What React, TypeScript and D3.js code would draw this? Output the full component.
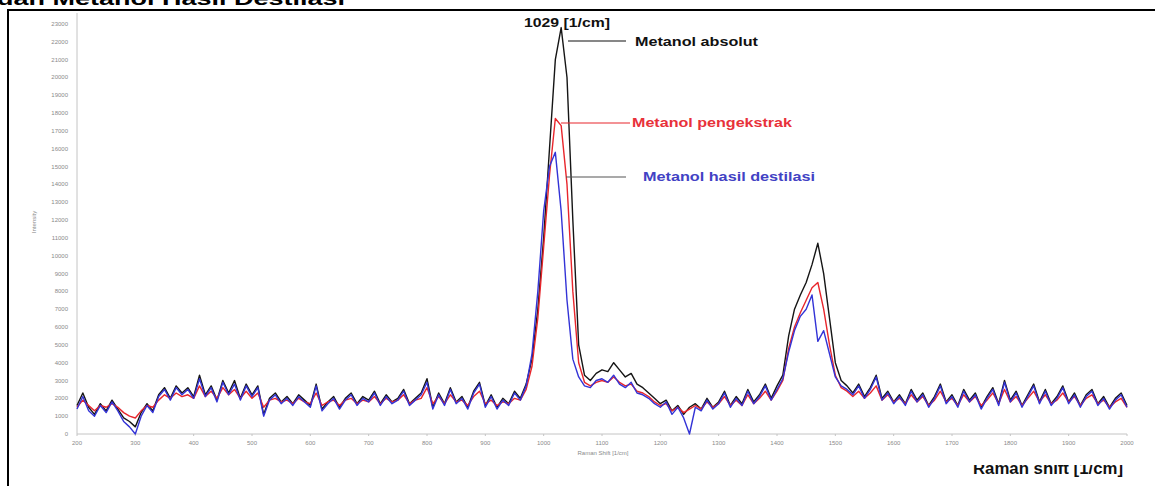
import React from "react";
import * as d3 from "d3";

const shiftStart = 200;
const shiftStep = 10;

const absolut = [
  1600, 2300, 1500, 1100, 1700, 1300, 1900, 1400, 900, 700,
  400, 1200, 1700, 1300, 2200, 2600, 2000, 2700, 2300, 2600,
  2100, 3300, 2200, 2700, 1900, 3000, 2300, 3000, 2000, 2800,
  2200, 2700, 1100, 2000, 2300, 1800, 2100, 1700, 2200, 1900,
  1600, 2800, 1400, 1800, 2100, 1500, 2000, 2300, 1700, 2100,
  1900, 2400, 1700, 2200, 1800, 2000, 2500, 1700, 2000, 2300,
  3100, 1500, 2300, 1700, 2600, 1800, 2100, 1500, 2400, 2900,
  1600, 2200, 1500, 2000, 1700, 2400, 2000, 2800, 4200, 7000,
  11000, 16000, 21000, 22800, 20000, 12000, 5000, 3300, 3000, 3400,
  3600, 3500, 4000, 3600, 3200, 3400, 2800, 2600, 2300, 2000,
  1700, 1900, 1300, 1600, 1100, 1500, 1700, 1400, 2000, 1500,
  1800, 2400, 1600, 2100, 1700, 2500, 1800, 2200, 2800, 2000,
  2700, 3300, 5500, 7000, 7800, 8500, 9500, 10700, 9000, 6500,
  4000, 3000, 2700, 2300, 2800, 2100, 2600, 3300, 2000, 2400,
  1800, 2200, 1700, 2500, 1900, 2300, 1600, 2100, 2800, 1800,
  2200, 1600, 2500, 1900, 2300, 1500, 2100, 2600, 1700, 3000,
  1900, 2400, 1600, 2200, 2800, 1800, 2500, 1700, 2100, 2700,
  1800, 2300, 1600, 2200, 2500, 1700, 2100, 1500, 2000, 2300,
  1600,
];

const pengekstrak = [
  1500, 1900, 1600, 1300, 1600, 1500, 1700, 1500, 1200, 1000,
  900, 1300, 1600, 1500, 1900, 2200, 2000, 2300, 2100, 2200,
  2000, 2700, 2100, 2400, 2000, 2600, 2200, 2500, 2000, 2400,
  2000, 2300, 1500, 1900, 2000, 1800, 1900, 1700, 2000, 1800,
  1700, 2300, 1600, 1800, 1900, 1600, 1900, 2000, 1700, 1900,
  1800, 2100, 1700, 2000, 1800, 1900, 2200, 1700, 1900, 2000,
  2600, 1700, 2100, 1700, 2200, 1800, 1900, 1600, 2100, 2400,
  1700, 1900, 1600, 1800, 1700, 2000, 1900, 2500, 3800, 6500,
  10500, 14500, 17700, 17300, 14000, 8000, 4000, 2900, 2700, 2900,
  3000, 2900, 3200, 2900, 2700, 2800, 2400, 2300, 2100, 1800,
  1600, 1700, 1300, 1500, 1200, 1400, 1600, 1400, 1800, 1500,
  1700, 2100, 1600, 1900, 1600, 2200, 1700, 2000, 2400, 1900,
  2400, 3000, 4800, 6000, 6800, 7500, 8200, 8500, 7000, 5000,
  3300, 2600, 2400, 2100, 2400, 2000, 2300, 2700, 1900, 2200,
  1800, 2000, 1700, 2200, 1800, 2100, 1600, 1900, 2400, 1800,
  2000, 1600, 2200, 1800, 2100, 1600, 1900, 2300, 1700, 2500,
  1800, 2100, 1600, 2000, 2400, 1800, 2200, 1700, 1900, 2300,
  1800, 2100, 1600, 2000, 2200, 1700, 1900, 1500, 1800, 2000,
  1500,
];

const destilasi = [
  1400, 2100, 1300, 1000, 1600, 1200, 1800, 1300, 700, 400,
  0, 1000, 1600, 1200, 2100, 2500, 1900, 2600, 2200, 2500,
  2000, 3100, 2100, 2600, 1800, 2900, 2200, 2800, 1900, 2700,
  2100, 2600, 1000, 1900, 2200, 1700, 2000, 1600, 2100, 1800,
  1500, 2700, 1300, 1700, 2000, 1400, 1900, 2200, 1600, 2000,
  1800, 2300, 1600, 2100, 1700, 1900, 2400, 1600, 1900, 2200,
  2900, 1400, 2200, 1600, 2500, 1700, 2000, 1400, 2300, 2800,
  1500, 2100, 1400, 1900, 1600, 2300, 1900, 2700, 4500, 8000,
  12500, 15000, 15800, 12500, 7500, 4200, 3200, 2700, 2600, 3000,
  3100, 2900, 3300, 2800, 2600, 2900, 2300, 2200, 2000, 1700,
  1500, 1800, 1100, 1500, 900, 0, 1500, 1300, 1900, 1400,
  1700, 2300, 1500, 2000, 1600, 2400, 1700, 2100, 2700, 1900,
  2500, 3100, 4600, 5800, 6600, 7000, 7800, 5200, 5800, 4500,
  3200, 2700, 2500, 2200, 2700, 2000, 2500, 3200, 1900, 2300,
  1700, 2100, 1600, 2400, 1800, 2200, 1500, 2000, 2700, 1700,
  2100, 1500, 2400, 1800, 2200, 1400, 2000, 2500, 1600, 2900,
  1800, 2300, 1500, 2100, 2700, 1700, 2400, 1600, 2000, 2600,
  1700, 2200, 1500, 2100, 2400, 1600, 2000, 1400, 1900, 2200,
  1500,
];

const xTicks = [200, 300, 400, 500, 600, 700, 800, 900, 1000, 1100, 1200, 1300, 1400, 1500, 1600, 1700, 1800, 1900, 2000];
const yTicks = [0, 1000, 2000, 3000, 4000, 5000, 6000, 7000, 8000, 9000, 10000, 11000, 12000, 13000, 14000, 15000, 16000, 17000, 18000, 19000, 20000, 21000, 22000, 23000];

const series = [
  { name: "Metanol absolut", values: absolut, color: "#151515" },
  { name: "Metanol pengekstrak", values: pengekstrak, color: "#e8262c" },
  { name: "Metanol hasil destilasi", values: destilasi, color: "#3333d6" },
];

export default function App() {
  const x = d3.scaleLinear().domain([200, 2000]).range([77, 1127]);
  const y = d3.scaleLinear().domain([0, 23000]).range([434, 24]);
  const line = d3
    .line<number>()
    .x((_, i) => x(shiftStart + i * shiftStep))
    .y((d) => y(d));

  const font = "'Liberation Sans', Arial, sans-serif";

  return (
    <svg
      width={1155}
      height={486}
      style={{ position: "absolute", left: 0, top: 0, background: "#fff" }}
      fontFamily={font}
    >
      <defs>
        <clipPath id="bottomClip">
          <rect x={900} y={465} width={255} height={30} />
        </clipPath>
        <clipPath id="topClip">
          <rect x={0} y={0} width={500} height={8} />
        </clipPath>
      </defs>
      <rect x={0} y={0} width={1155} height={486} fill="#fff" />

      {/* cut-off page title */}
      <g clipPath="url(#topClip)">
        <text x={-3} y={5} fontSize={18} fontWeight="bold" fill="#000" textLength={348} lengthAdjust="spacingAndGlyphs">
          dan Metanol Hasil Destilasi
        </text>
      </g>

      {/* frame */}
      <line x1={7} y1={10} x2={1155} y2={10} stroke="#000" strokeWidth={2} />
      <line x1={8} y1={9} x2={8} y2={486} stroke="#000" strokeWidth={2} />

      {/* axes */}
      <line x1={x(200)} y1={13} x2={x(200)} y2={y(0)} stroke="#c4c4c4" strokeWidth={1} />
      <line x1={x(200)} y1={y(0)} x2={x(2000)} y2={y(0)} stroke="#c4c4c4" strokeWidth={1} />
      {xTicks.map((t) => (
        <g key={"xt" + t}>
          <line x1={x(t)} y1={y(0)} x2={x(t)} y2={y(0) + 2} stroke="#c4c4c4" />
          <text x={x(t)} y={y(0) + 11} fontSize={6} fill="#8a8a8a" textAnchor="middle">
            {t}
          </text>
        </g>
      ))}
      {yTicks.map((t) => (
        <text key={"yt" + t} x={68} y={y(t) + 2} fontSize={6} fill="#8a8a8a" textAnchor="end">
          {t}
        </text>
      ))}
      <text x={603} y={455} fontSize={6} fill="#8a8a8a" textAnchor="middle">
        Raman Shift [1/cm]
      </text>
      <text transform="translate(36,222) rotate(-90)" fontSize={6} fill="#8a8a8a" textAnchor="middle">
        Intensity
      </text>

      {/* spectra */}
      {series.map((s) => (
        <path key={s.name} d={line(s.values) || ""} fill="none" stroke={s.color} strokeWidth={1.4} strokeLinejoin="round" />
      ))}

      {/* annotations */}
      <text x={524} y={27} fontSize={12} fontWeight="bold" fill="#111" textLength={86} lengthAdjust="spacingAndGlyphs">
        1029 [1/cm]
      </text>
      <line x1={568} y1={41} x2={626} y2={41} stroke="#111" strokeWidth={1.2} />
      <text x={635} y={46} fontSize={12} fontWeight="bold" fill="#111" textLength={123} lengthAdjust="spacingAndGlyphs">
        Metanol absolut
      </text>

      <line x1={561} y1={123} x2={630} y2={123} stroke="#e8262c" strokeWidth={1.2} />
      <text x={632} y={127} fontSize={12} fontWeight="bold" fill="#e8313a" textLength={160} lengthAdjust="spacingAndGlyphs">
        Metanol pengekstrak
      </text>

      <line x1={566} y1={177} x2={626} y2={177} stroke="#555" strokeWidth={1.2} />
      <text x={643} y={181} fontSize={12} fontWeight="bold" fill="#4242c4" textLength={172} lengthAdjust="spacingAndGlyphs">
        Metanol hasil destilasi
      </text>

      {/* cut-off axis title from the page */}
      <g clipPath="url(#bottomClip)">
        <text x={973} y={474} fontSize={16} fontWeight="bold" fill="#111" textLength={150} lengthAdjust="spacingAndGlyphs">
          Raman shift [1/cm]
        </text>
      </g>
    </svg>
  );
}
